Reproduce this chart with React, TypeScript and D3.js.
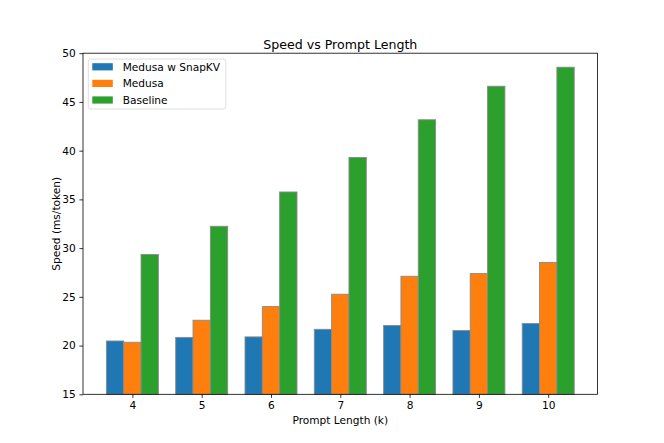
import { useEffect, useRef } from "react";
import * as d3 from "d3";

const W = 664, H = 443;
const FONT = "DejaVu Sans, sans-serif";
const FS = 10.6;

const prompts = ["4", "5", "6", "7", "8", "9", "10"];
const seriesNames = ["Medusa w SnapKV", "Medusa", "Baseline"];
const colors = ["#1f77b4", "#ff7f0e", "#2ca02c"];
const snapkv = [20.47, 20.84, 20.89, 21.67, 22.06, 21.54, 22.26];
const medusa = [20.34, 22.6, 24.0, 25.27, 27.11, 27.39, 28.52];
const baseline = [29.35, 32.24, 35.76, 39.3, 43.17, 46.61, 48.56];
const yTicks = [15, 20, 25, 30, 35, 40, 45, 50];

export default function App() {
  const ref = useRef<SVGSVGElement>(null);

  useEffect(() => {
    if (!ref.current) return;
    const svg = d3.select(ref.current);
    svg.selectAll("*").remove();

    const ML = 83, MR = 597.6, MT = 53.2, MB = 394.3;
    const barW = 0.25;
    const x = d3.scaleLinear().domain([-0.7125, 6.7125]).range([ML, MR]);
    const y = d3.scaleLinear().domain([15, 50]).range([MB, MT]);
    const all = [snapkv, medusa, baseline];

    svg.append("rect").attr("width", W).attr("height", H).attr("fill", "white");

    // bars
    all.forEach((vals, s) => {
      const off = (s - 1) * barW;
      svg.append("g").selectAll("rect").data(vals).join("rect")
        .attr("x", (_, i) => x(i + off - barW / 2))
        .attr("width", x(barW) - x(0))
        .attr("y", d => y(d))
        .attr("height", d => y(15) - y(d))
        .attr("fill", colors[s])
        .attr("stroke", "#8a8a8a").attr("stroke-width", 0.9);
    });

    // frame
    svg.append("rect")
      .attr("x", ML).attr("y", MT).attr("width", MR - ML).attr("height", MB - MT)
      .attr("fill", "none").attr("stroke", "black").attr("stroke-width", 0.8);

    // x axis
    const xa = svg.append("g").attr("transform", `translate(0,${MB})`)
      .call(d3.axisBottom(x).tickValues(d3.range(prompts.length))
        .tickFormat((d) => prompts[+d]).tickSize(3.6).tickPadding(3.6));
    xa.select(".domain").remove();
    xa.selectAll("line").attr("stroke", "black").attr("stroke-width", 0.8);
    xa.selectAll("text").attr("font-family", FONT).attr("font-size", FS).attr("fill", "black");

    // y axis
    const ya = svg.append("g").attr("transform", `translate(${ML},0)`)
      .call(d3.axisLeft(y).tickValues(yTicks).tickSize(3.6).tickPadding(3.6));
    ya.select(".domain").remove();
    ya.selectAll("line").attr("stroke", "black").attr("stroke-width", 0.8);
    ya.selectAll("text").attr("font-family", FONT).attr("font-size", FS).attr("fill", "black");

    // title and labels
    svg.append("text").attr("x", (ML + MR) / 2).attr("y", 48.5)
      .attr("text-anchor", "middle").attr("font-family", FONT).attr("font-size", 12.6)
      .text("Speed vs Prompt Length");
    svg.append("text").attr("x", (ML + MR) / 2).attr("y", 424)
      .attr("text-anchor", "middle").attr("font-family", FONT).attr("font-size", FS)
      .text("Prompt Length (k)");
    svg.append("text")
      .attr("transform", `translate(59.5,${(MT + MB) / 2}) rotate(-90)`)
      .attr("text-anchor", "middle").attr("font-family", FONT).attr("font-size", FS)
      .text("Speed (ms/token)");

    // legend
    const lg = svg.append("g").attr("transform", "translate(88.3,59)");
    lg.append("rect").attr("width", 137.5).attr("height", 50).attr("rx", 2.5)
      .attr("fill", "white").attr("fill-opacity", 0.8)
      .attr("stroke", "#d6d6d6").attr("stroke-width", 0.8);
    seriesNames.forEach((name, i) => {
      const cy = 7.8 + i * 16.6;
      lg.append("rect").attr("x", 4).attr("y", cy - 3.6).attr("width", 20.5).attr("height", 7.2)
        .attr("fill", colors[i]);
      lg.append("text").attr("x", 34.4).attr("y", cy).attr("dy", "0.36em")
        .attr("font-family", FONT).attr("font-size", FS).text(name);
    });
  }, []);

  return <svg ref={ref} width={W} height={H} style={{ display: "block", margin: -8 }} />;
}
